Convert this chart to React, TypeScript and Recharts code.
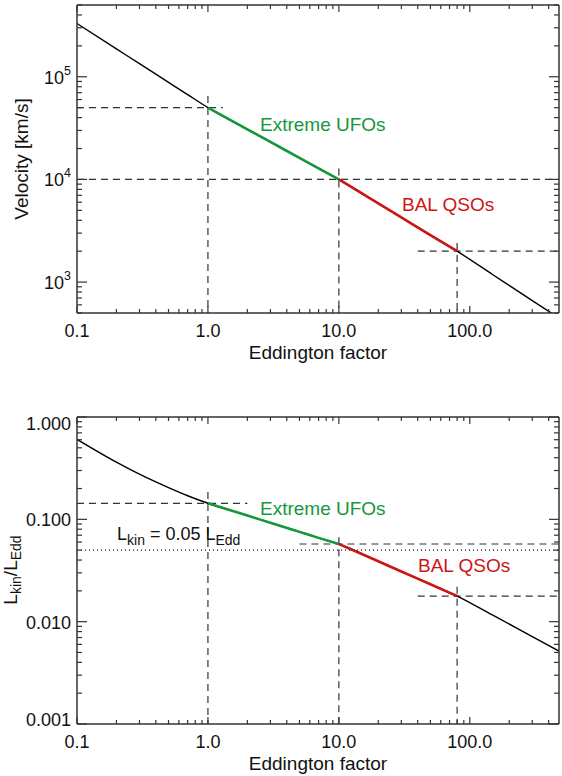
import React from 'react';
import { ComposedChart, Line, XAxis, YAxis, ReferenceLine } from 'recharts';

// Eddington factor samples and the two curves
const eddFactor = [0.1, 0.2, 0.3, 0.5, 0.7, 1, 2, 3, 5, 7, 10, 20, 30, 50, 80, 150, 300, 480];
const velocity = [330000, 187000, 134000, 88300, 67000, 50000, 30800, 23200, 16200, 12800, 10000, 5850, 4270, 2870, 2000, 1180, 660, 447];
const lkinRatio = [0.605, 0.362, 0.276, 0.204, 0.17, 0.1435, 0.109, 0.0925, 0.0754, 0.0659, 0.0574, 0.0389, 0.0309, 0.0232, 0.0178, 0.01156, 0.00716, 0.00516];

// highlighted ranges
const ufoRange = [1, 10];
const balRange = [10, 80];

// dashed guide lines (factor, value) and their extents
const guideFactor = [1, 10, 80];
const guideVelocity = [50000, 10000, 2000];
const guideVelFrom = [0.1, 0.1, 40];
const guideVelTo = [1.3, 480, 480];
const guideVelTop = [65000, 12800, 2400];
const guideLkin = [0.1435, 0.0574, 0.0178];
const guideLkinFrom = [0.1, 5, 40];
const guideLkinTo = [2, 480, 480];
const guideLkinTop = [0.185, 0.067, 0.022];
const lkinLevel = 0.05;

// axes
const xDomain = [0.1, 480];
const velDomain = [500, 500000];
const lkinDomain = [0.001, 1];
const xMajor = [0.1, 1, 10, 100];
const xLabels = ['0.1', '1.0', '10.0', '100.0'];
const velMajor = [1000, 10000, 100000];
const velExp = ['3', '4', '5'];
const lkinMajor = [0.001, 0.01, 0.1, 1];
const lkinLabels = ['0.001', '0.010', '0.100', '1.000'];

const font = '"Liberation Sans", Arial, Helvetica, sans-serif';
const axisColor = '#333';
const green = '#15973c';
const red = '#cc1515';

function logTicks(lo: number, hi: number) {
  const out: number[] = [];
  for (let e = Math.floor(Math.log10(lo)); e <= Math.ceil(Math.log10(hi)); e++) {
    for (let m = 1; m <= 9; m++) {
      const v = +(m * Math.pow(10, e)).toPrecision(6);
      if (v >= lo * 0.9999 && v <= hi * 1.0001) out.push(v);
    }
  }
  return out;
}

const near = (a: number, b: number) => Math.abs(a - b) / b < 1e-6;
const majorIndex = (v: number, majors: number[]) => majors.findIndex((m) => near(v, m));

const velRows = eddFactor.map((f, i) => ({
  f,
  v: velocity[i],
  ufo: f >= ufoRange[0] && f <= ufoRange[1] ? velocity[i] : null,
  bal: f >= balRange[0] && f <= balRange[1] ? velocity[i] : null,
}));
const lkinRows = eddFactor.map((f, i) => ({
  f,
  v: lkinRatio[i],
  ufo: f >= ufoRange[0] && f <= ufoRange[1] ? lkinRatio[i] : null,
  bal: f >= balRange[0] && f <= balRange[1] ? lkinRatio[i] : null,
}));

const xTicks = logTicks(xDomain[0], xDomain[1]);
const velTicks = logTicks(velDomain[0], velDomain[1]);
const lkinTicks = logTicks(lkinDomain[0], lkinDomain[1]);

const makeXTick = (side: 'bottom' | 'top', withLabels: boolean) => (props: any) => {
  const { x, y, payload } = props;
  const i = majorIndex(payload.value, xMajor);
  const len = i >= 0 ? 7 : 4;
  const dir = side === 'bottom' ? -1 : 1;
  return (
    <g>
      <line x1={x} x2={x} y1={y} y2={y + dir * len} stroke={axisColor} strokeWidth={1.2} />
      {withLabels && i >= 0 && (
        <text x={x} y={y + 24} textAnchor="middle" fontSize={18} fontFamily={font} fill="#111">
          {xLabels[i]}
        </text>
      )}
    </g>
  );
};

const makeYTick = (side: 'left' | 'right', kind: 'vel' | 'lkin' | 'none', majors: number[]) => (props: any) => {
  const { x, y, payload } = props;
  const i = majorIndex(payload.value, majors);
  const len = i >= 0 ? 10 : 5;
  const dir = side === 'left' ? 1 : -1;
  let label = null;
  if (i >= 0 && kind === 'vel') {
    label = (
      <text x={x - 6} y={y + 7} textAnchor="end" fontSize={18} fontFamily={font} fill="#111">
        10<tspan dy={-9} fontSize={12.5}>{velExp[i]}</tspan>
      </text>
    );
  } else if (i >= 0 && kind === 'lkin') {
    let shift = 0;
    if (i === lkinMajor.length - 1) shift = 6;
    if (i === 0) shift = -5;
    label = (
      <text x={x - 6} y={y + 7 + shift} textAnchor="end" fontSize={18} fontFamily={font} fill="#111">
        {lkinLabels[i]}
      </text>
    );
  }
  return (
    <g>
      <line x1={x} x2={x + dir * len} y1={y} y2={y} stroke={axisColor} strokeWidth={1.2} />
      {label}
    </g>
  );
};

const axisLine = { stroke: axisColor, strokeWidth: 1.5 };

function Panel({
  rows,
  yDomain,
  yTicks,
  yKind,
  yMajor,
  guideY,
  guideFrom,
  guideTo,
  guideTop,
  margin,
  dotted,
}: any) {
  return (
    <ComposedChart width={562} height={388} data={rows} margin={margin}>
      <XAxis
        xAxisId="b"
        dataKey="f"
        type="number"
        scale="log"
        domain={xDomain}
        allowDataOverflow
        ticks={xTicks}
        interval={0}
        height={1}
        tickSize={0}
        tickMargin={0}
        tickLine={false}
        axisLine={axisLine}
        tick={makeXTick('bottom', true)}
      />
      <XAxis
        xAxisId="t"
        orientation="top"
        dataKey="f"
        type="number"
        scale="log"
        domain={xDomain}
        allowDataOverflow
        ticks={xTicks}
        interval={0}
        height={1}
        tickSize={0}
        tickMargin={0}
        tickLine={false}
        axisLine={axisLine}
        tick={makeXTick('top', false)}
      />
      <YAxis
        yAxisId="l"
        type="number"
        scale="log"
        domain={yDomain}
        allowDataOverflow
        ticks={yTicks}
        interval={0}
        width={1}
        tickSize={0}
        tickMargin={0}
        tickLine={false}
        axisLine={axisLine}
        tick={makeYTick('left', yKind, yMajor)}
      />
      <YAxis
        yAxisId="r"
        orientation="right"
        type="number"
        scale="log"
        domain={yDomain}
        allowDataOverflow
        ticks={yTicks}
        interval={0}
        width={1}
        tickSize={0}
        tickMargin={0}
        tickLine={false}
        axisLine={axisLine}
        tick={makeYTick('right', 'none', yMajor)}
      />
      {dotted != null && (
        <ReferenceLine
          xAxisId="b"
          yAxisId="l"
          y={dotted}
          stroke="#111"
          strokeWidth={1.2}
          strokeDasharray="1 3"
        />
      )}
      {guideFactor.map((f: number, i: number) => (
        <ReferenceLine
          key={'h' + i}
          xAxisId="b"
          yAxisId="l"
          ifOverflow="visible"
          segment={[
            { x: guideFrom[i], y: guideY[i] },
            { x: guideTo[i], y: guideY[i] },
          ]}
          stroke="#333"
          strokeWidth={1.2}
          strokeDasharray="7 5"
        />
      ))}
      {guideFactor.map((f: number, i: number) => (
        <ReferenceLine
          key={'v' + i}
          xAxisId="b"
          yAxisId="l"
          ifOverflow="visible"
          segment={[
            { x: f, y: guideTop[i] },
            { x: f, y: yDomain[0] },
          ]}
          stroke="#333"
          strokeWidth={1.2}
          strokeDasharray="7 5"
        />
      ))}
      <Line
        xAxisId="b"
        yAxisId="l"
        dataKey="v"
        type="monotone"
        stroke="#000"
        strokeWidth={1.4}
        dot={false}
        isAnimationActive={false}
      />
      <Line
        xAxisId="b"
        yAxisId="l"
        dataKey="ufo"
        type="monotone"
        stroke={green}
        strokeWidth={2.6}
        dot={false}
        isAnimationActive={false}
      />
      <Line
        xAxisId="b"
        yAxisId="l"
        dataKey="bal"
        type="monotone"
        stroke={red}
        strokeWidth={2.6}
        dot={false}
        isAnimationActive={false}
      />
    </ComposedChart>
  );
}

export default function App() {
  const sub = 14;
  return (
    <div style={{ position: 'absolute', left: 0, top: 0, width: 562, height: 776, background: '#fff' }}>
      <div style={{ position: 'absolute', left: 0, top: 0 }}>
        <Panel
          rows={velRows}
          yDomain={velDomain}
          yTicks={velTicks}
          yKind="vel"
          yMajor={velMajor}
          guideY={guideVelocity}
          guideFrom={guideVelFrom}
          guideTo={guideVelTo}
          guideTop={guideVelTop}
          margin={{ top: 4, right: 2, bottom: 74, left: 76 }}
          dotted={null}
        />
      </div>
      <div style={{ position: 'absolute', left: 0, top: 388 }}>
        <Panel
          rows={lkinRows}
          yDomain={lkinDomain}
          yTicks={lkinTicks}
          yKind="lkin"
          yMajor={lkinMajor}
          guideY={guideLkin}
          guideFrom={guideLkinFrom}
          guideTo={guideLkinTo}
          guideTop={guideLkinTop}
          margin={{ top: 28, right: 2, bottom: 51, left: 76 }}
          dotted={lkinLevel}
        />
      </div>
      <svg
        width={562}
        height={776}
        style={{ position: 'absolute', left: 0, top: 0, pointerEvents: 'none' }}
        fontFamily={font}
      >
        <text x={318} y={359} textAnchor="middle" fontSize={19} fill="#111">
          Eddington factor
        </text>
        <text x={318} y={770} textAnchor="middle" fontSize={19} fill="#111">
          Eddington factor
        </text>
        <text transform="translate(28,159) rotate(-90)" textAnchor="middle" fontSize={19} fill="#111">
          Velocity [km/s]
        </text>
        <text transform="translate(17,570) rotate(-90)" textAnchor="middle" fontSize={19} fill="#111">
          L<tspan dy={4} fontSize={14}>kin</tspan>
          <tspan dy={-4}>/L</tspan>
          <tspan dy={4} fontSize={14}>Edd</tspan>
        </text>
        <text x={260} y={131} fontSize={19} fill={green}>
          Extreme UFOs
        </text>
        <text x={402} y={211} fontSize={19} fill={red}>
          BAL QSOs
        </text>
        <text x={260} y={515} fontSize={19} fill={green}>
          Extreme UFOs
        </text>
        <text x={418} y={572} fontSize={19} fill={red}>
          BAL QSOs
        </text>
        <text x={117} y={540} fontSize={18} fill="#111">
          L<tspan dy={5} fontSize={sub}>kin</tspan>
          <tspan dy={-5}> = 0.05 L</tspan>
          <tspan dy={5} fontSize={sub}>Edd</tspan>
        </text>
      </svg>
    </div>
  );
}
